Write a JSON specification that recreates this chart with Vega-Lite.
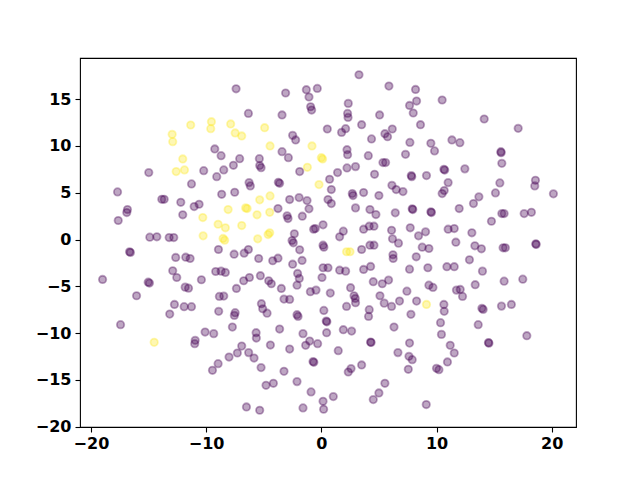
{
"$schema": "https://vega.github.io/schema/vega-lite/v6.json",
"width": 496, "height": 369,
"autosize": "none",
"padding": {"left": 80, "top": 58, "right": 64, "bottom": 53},
"background": "white",
"config": {"view": {"stroke": "black", "strokeWidth": 1.1}},
"data": {"values": [
{"x":-11.34,"y":12.24,"c":1},{"x":-12.95,"y":11.24,"c":1},{"x":-12.90,"y":10.46,"c":1},{"x":-12.03,"y":8.61,"c":1},{"x":-14.98,"y":7.15,"c":0},{"x":-12.60,"y":7.26,"c":1},{"x":-11.88,"y":7.44,"c":1},
{"x":-7.40,"y":16.11,"c":0},{"x":-3.10,"y":15.66,"c":0},{"x":-1.30,"y":16.01,"c":0},{"x":-0.35,"y":16.15,"c":0},{"x":-1.07,"y":15.23,"c":0},{"x":-0.93,"y":14.19,"c":0},{"x":-0.84,"y":13.84,"c":0},{"x":-6.33,"y":13.48,"c":0},{"x":-3.41,"y":13.31,"c":0},
{"x":-9.54,"y":12.59,"c":1},{"x":-9.60,"y":11.85,"c":1},{"x":-7.87,"y":12.35,"c":1},{"x":-7.48,"y":11.39,"c":1},{"x":-6.91,"y":11.07,"c":1},{"x":-4.92,"y":11.95,"c":1},
{"x":-2.49,"y":11.13,"c":0},{"x":-2.23,"y":10.64,"c":0},{"x":-4.45,"y":10.00,"c":1},{"x":-0.81,"y":10.00,"c":1},{"x":-9.25,"y":9.68,"c":0},{"x":-8.70,"y":8.96,"c":0},{"x":-3.41,"y":9.39,"c":0},{"x":-2.86,"y":8.75,"c":0},{"x":-7.09,"y":8.64,"c":0},{"x":-5.38,"y":8.64,"c":0},{"x":-5.35,"y":7.90,"c":0},{"x":-5.23,"y":7.68,"c":0},{"x":-7.63,"y":7.93,"c":0},{"x":-8.47,"y":7.44,"c":0},{"x":-10.21,"y":7.36,"c":0},{"x":-9.08,"y":6.72,"c":0},
{"x":-1.21,"y":7.72,"c":1},{"x":0.00,"y":8.75,"c":1},{"x":0.11,"y":8.61,"c":1},{"x":-1.88,"y":7.26,"c":0},
{"x":3.27,"y":17.61,"c":0},{"x":5.87,"y":16.40,"c":0},{"x":8.18,"y":16.04,"c":0},{"x":10.49,"y":14.91,"c":0},{"x":8.27,"y":14.80,"c":0},{"x":7.66,"y":14.33,"c":0},{"x":7.98,"y":13.52,"c":0},{"x":2.34,"y":14.55,"c":0},{"x":2.28,"y":13.48,"c":0},{"x":2.32,"y":13.05,"c":0},{"x":5.06,"y":13.31,"c":0},{"x":0.52,"y":11.81,"c":0},{"x":1.76,"y":11.45,"c":0},{"x":2.11,"y":11.85,"c":0},{"x":3.50,"y":12.27,"c":0},{"x":8.61,"y":12.27,"c":0},{"x":4.36,"y":10.75,"c":0},{"x":5.52,"y":11.31,"c":0},{"x":5.75,"y":10.99,"c":0},{"x":6.16,"y":11.81,"c":0},{"x":7.69,"y":10.38,"c":0},{"x":9.51,"y":10.28,"c":0},{"x":9.83,"y":9.47,"c":0},{"x":7.31,"y":9.10,"c":0},{"x":2.23,"y":9.60,"c":0},{"x":2.28,"y":9.07,"c":0},{"x":4.08,"y":8.96,"c":0},{"x":5.35,"y":8.22,"c":0},{"x":5.58,"y":8.22,"c":0},{"x":2.97,"y":7.79,"c":0},{"x":2.23,"y":7.65,"c":0},{"x":1.41,"y":7.15,"c":0},{"x":0.72,"y":6.44,"c":0},{"x":4.62,"y":6.97,"c":0},{"x":7.81,"y":6.83,"c":0},{"x":7.85,"y":6.72,"c":0},{"x":9.13,"y":6.83,"c":0},{"x":10.64,"y":7.50,"c":0},{"x":10.71,"y":7.42,"c":0},
{"x":14.14,"y":12.88,"c":0},{"x":17.09,"y":11.88,"c":0},{"x":11.34,"y":10.64,"c":0},{"x":12.03,"y":10.35,"c":0},{"x":15.59,"y":9.39,"c":0},{"x":15.61,"y":9.28,"c":0},{"x":15.67,"y":8.14,"c":0},{"x":12.46,"y":7.55,"c":0},{"x":18.59,"y":6.33,"c":0},
{"x":-11.27,"y":5.94,"c":0},{"x":-17.69,"y":5.09,"c":0},{"x":-13.85,"y":4.30,"c":0},{"x":-13.64,"y":4.30,"c":0},{"x":-12.20,"y":3.98,"c":0},{"x":-11.04,"y":3.52,"c":0},{"x":-10.61,"y":3.77,"c":0},{"x":-16.83,"y":3.20,"c":0},{"x":-16.89,"y":2.88,"c":0},{"x":-17.63,"y":2.03,"c":0},{"x":-12.03,"y":2.64,"c":0},{"x":-14.89,"y":0.25,"c":0},{"x":-14.28,"y":0.29,"c":0},{"x":-13.21,"y":0.21,"c":0},{"x":-12.81,"y":0.21,"c":0},{"x":-16.65,"y":-1.31,"c":0},{"x":-16.57,"y":-1.39,"c":0},{"x":-12.64,"y":-1.92,"c":0},{"x":-11.77,"y":-1.89,"c":0},{"x":-11.39,"y":-2.03,"c":0},{"x":-18.99,"y":-4.27,"c":0},{"x":-12.90,"y":-3.34,"c":0},{"x":-12.55,"y":-4.06,"c":0},{"x":-15.03,"y":-4.56,"c":0},{"x":-14.92,"y":-4.66,"c":0},{"x":-10.41,"y":-4.30,"c":0},{"x":-11.82,"y":-5.09,"c":0},{"x":-11.53,"y":-5.20,"c":0},{"x":-16.04,"y":-6.01,"c":0},
{"x":-6.27,"y":6.08,"c":0},{"x":-6.16,"y":5.73,"c":0},{"x":-3.73,"y":6.12,"c":0},{"x":-3.62,"y":6.01,"c":0},{"x":-0.20,"y":5.87,"c":1},{"x":-8.65,"y":4.83,"c":0},{"x":-7.52,"y":5.05,"c":0},{"x":-5.35,"y":4.24,"c":1},{"x":-4.45,"y":4.66,"c":1},{"x":-2.75,"y":4.27,"c":0},{"x":-1.93,"y":4.48,"c":0},{"x":-1.24,"y":4.16,"c":0},{"x":-1.07,"y":3.28,"c":0},
{"x":-10.29,"y":2.35,"c":1},{"x":-8.09,"y":3.20,"c":1},{"x":-6.57,"y":3.38,"c":1},{"x":-6.44,"y":3.31,"c":1},{"x":-5.58,"y":2.64,"c":1},{"x":-4.48,"y":2.91,"c":1},{"x":-3.76,"y":3.31,"c":0},{"x":-2.97,"y":2.53,"c":0},{"x":-2.89,"y":2.24,"c":0},{"x":-1.65,"y":2.49,"c":0},{"x":-0.67,"y":1.10,"c":0},{"x":-0.52,"y":1.17,"c":0},{"x":0.15,"y":1.57,"c":0},
{"x":-8.96,"y":1.63,"c":1},{"x":-8.33,"y":1.25,"c":1},{"x":-6.91,"y":1.49,"c":1},{"x":-10.26,"y":0.39,"c":1},{"x":-8.53,"y":0.11,"c":1},{"x":-8.39,"y":-0.07,"c":1},{"x":-5.52,"y":0.07,"c":1},{"x":-4.62,"y":0.53,"c":1},{"x":-4.48,"y":0.72,"c":1},
{"x":-2.34,"y":0.61,"c":0},{"x":-2.54,"y":-0.11,"c":0},{"x":-2.43,"y":-0.35,"c":0},{"x":-1.88,"y":-1.10,"c":0},{"x":0.15,"y":-0.61,"c":0},{"x":0.22,"y":-0.82,"c":0},{"x":-8.93,"y":-1.07,"c":0},{"x":-7.57,"y":-1.57,"c":0},{"x":-6.70,"y":-1.46,"c":0},{"x":-6.33,"y":-1.07,"c":0},{"x":-5.44,"y":-2.03,"c":0},{"x":-4.22,"y":-2.27,"c":0},{"x":-3.76,"y":-2.00,"c":0},{"x":-1.67,"y":-2.24,"c":0},{"x":-2.49,"y":-2.64,"c":0},
{"x":-9.17,"y":-3.42,"c":0},{"x":-8.70,"y":-3.38,"c":0},{"x":-8.33,"y":-3.52,"c":0},{"x":-2.06,"y":-3.63,"c":0},{"x":-1.91,"y":-4.16,"c":0},{"x":0.15,"y":-3.02,"c":0},{"x":0.06,"y":-4.06,"c":0},{"x":-6.74,"y":-4.41,"c":0},{"x":-6.24,"y":-4.06,"c":0},{"x":-5.29,"y":-3.87,"c":0},{"x":-4.57,"y":-4.41,"c":0},{"x":-4.34,"y":-4.73,"c":0},{"x":-2.11,"y":-4.88,"c":0},{"x":-7.37,"y":-5.23,"c":0},{"x":-3.47,"y":-5.23,"c":0},{"x":-0.95,"y":-5.58,"c":0},{"x":-0.46,"y":-5.41,"c":0},{"x":-8.85,"y":-6.08,"c":0},{"x":-8.47,"y":-6.05,"c":0},{"x":-3.24,"y":-6.37,"c":0},{"x":-2.75,"y":-6.40,"c":0},
{"x":0.87,"y":5.34,"c":0},{"x":0.58,"y":4.27,"c":0},{"x":0.87,"y":3.84,"c":0},{"x":2.69,"y":4.91,"c":0},{"x":2.75,"y":4.70,"c":0},{"x":3.67,"y":5.02,"c":0},{"x":5.00,"y":4.70,"c":0},{"x":6.13,"y":5.79,"c":0},{"x":6.50,"y":5.34,"c":0},{"x":7.09,"y":5.12,"c":0},{"x":10.49,"y":4.91,"c":0},{"x":10.67,"y":5.23,"c":0},{"x":2.97,"y":3.38,"c":0},{"x":4.22,"y":3.20,"c":0},{"x":4.74,"y":2.67,"c":0},{"x":6.42,"y":2.85,"c":0},{"x":7.89,"y":3.28,"c":0},{"x":7.94,"y":3.20,"c":0},{"x":9.51,"y":2.96,"c":0},{"x":9.56,"y":2.88,"c":0},
{"x":1.91,"y":0.89,"c":0},{"x":1.59,"y":0.29,"c":0},{"x":3.67,"y":1.10,"c":0},{"x":4.16,"y":1.42,"c":0},{"x":4.57,"y":1.42,"c":0},{"x":6.10,"y":0.99,"c":0},{"x":7.72,"y":1.25,"c":0},{"x":8.44,"y":0.39,"c":0},{"x":9.05,"y":0.82,"c":0},{"x":6.18,"y":0.07,"c":0},{"x":6.70,"y":-0.39,"c":0},
{"x":2.19,"y":-1.31,"c":1},{"x":2.49,"y":-1.31,"c":1},{"x":3.50,"y":-1.07,"c":0},{"x":4.22,"y":-0.61,"c":0},{"x":4.57,"y":-0.61,"c":0},{"x":6.22,"y":-1.63,"c":0},{"x":6.24,"y":-2.03,"c":0},{"x":8.24,"y":-1.85,"c":0},{"x":8.76,"y":-0.82,"c":0},{"x":9.34,"y":-0.96,"c":0},{"x":7.66,"y":-3.17,"c":0},{"x":9.25,"y":-3.02,"c":0},{"x":0.58,"y":-3.02,"c":0},{"x":1.59,"y":-3.28,"c":0},{"x":2.11,"y":-3.38,"c":0},{"x":3.67,"y":-3.20,"c":0},{"x":4.28,"y":-2.88,"c":0},
{"x":2.54,"y":-5.15,"c":0},{"x":4.51,"y":-4.51,"c":0},{"x":5.29,"y":-4.73,"c":0},{"x":5.84,"y":-4.34,"c":0},{"x":7.43,"y":-5.52,"c":0},{"x":9.34,"y":-4.88,"c":0},{"x":9.69,"y":-5.12,"c":0},{"x":0.78,"y":-5.73,"c":0},{"x":2.84,"y":-6.01,"c":0},{"x":2.95,"y":-6.30,"c":0},{"x":5.09,"y":-6.01,"c":0},{"x":6.79,"y":-6.58,"c":0},{"x":8.27,"y":-6.58,"c":0},
{"x":11.01,"y":6.08,"c":0},{"x":15.50,"y":6.05,"c":0},{"x":18.53,"y":5.73,"c":0},{"x":13.68,"y":4.56,"c":0},{"x":13.21,"y":3.84,"c":0},{"x":15.12,"y":4.98,"c":0},{"x":20.15,"y":4.88,"c":0},{"x":11.97,"y":3.31,"c":0},{"x":15.67,"y":2.77,"c":0},{"x":15.87,"y":2.77,"c":0},{"x":17.61,"y":2.77,"c":0},{"x":18.24,"y":2.91,"c":0},{"x":14.77,"y":1.95,"c":0},{"x":11.01,"y":1.10,"c":0},{"x":11.54,"y":1.17,"c":0},{"x":13.07,"y":0.72,"c":0},{"x":11.68,"y":-0.29,"c":0},{"x":13.33,"y":-0.67,"c":0},{"x":13.90,"y":-0.99,"c":0},{"x":15.78,"y":-0.89,"c":0},{"x":15.98,"y":-0.89,"c":0},{"x":18.62,"y":-0.46,"c":0},{"x":18.65,"y":-0.53,"c":0},{"x":12.86,"y":-2.17,"c":0},{"x":10.90,"y":-2.91,"c":0},{"x":11.54,"y":-2.91,"c":0},{"x":13.99,"y":-3.38,"c":0},{"x":15.87,"y":-4.45,"c":0},{"x":17.49,"y":-4.24,"c":0},{"x":13.36,"y":-4.83,"c":0},{"x":11.73,"y":-5.41,"c":0},{"x":12.06,"y":-5.34,"c":0},{"x":12.26,"y":-6.08,"c":0},
{"x":-12.75,"y":-6.94,"c":0},{"x":-11.91,"y":-7.18,"c":0},{"x":-11.27,"y":-7.18,"c":0},{"x":-13.16,"y":-7.97,"c":0},{"x":-17.43,"y":-9.10,"c":0},{"x":-14.51,"y":-10.99,"c":1},{"x":-10.95,"y":-10.78,"c":0},{"x":-10.99,"y":-11.13,"c":0},
{"x":-5.20,"y":-6.86,"c":0},{"x":-5.09,"y":-7.40,"c":0},{"x":-4.71,"y":-7.87,"c":0},{"x":-8.91,"y":-7.68,"c":0},{"x":-7.48,"y":-7.82,"c":0},{"x":-7.55,"y":-8.11,"c":0},{"x":-2.11,"y":-8.04,"c":0},{"x":-2.02,"y":-8.22,"c":0},{"x":0.22,"y":-7.58,"c":0},{"x":-10.09,"y":-9.89,"c":0},{"x":-9.34,"y":-10.06,"c":0},{"x":-7.72,"y":-9.36,"c":0},{"x":-5.66,"y":-9.96,"c":0},{"x":-5.64,"y":-10.53,"c":0},{"x":-3.62,"y":-9.57,"c":0},{"x":-1.59,"y":-10.06,"c":0},{"x":-1.01,"y":-10.85,"c":0},{"x":-1.36,"y":-11.31,"c":0},{"x":-0.32,"y":-11.13,"c":0},{"x":-4.42,"y":-11.28,"c":0},{"x":-6.91,"y":-11.39,"c":0},{"x":-7.29,"y":-12.13,"c":0},{"x":-8.01,"y":-12.56,"c":0},{"x":-6.31,"y":-12.09,"c":0},{"x":-5.84,"y":-12.67,"c":0},{"x":-2.75,"y":-11.71,"c":0},{"x":-8.96,"y":-13.27,"c":0},{"x":-9.45,"y":-13.98,"c":0},{"x":-5.23,"y":-13.69,"c":0},{"x":-0.72,"y":-13.05,"c":0},{"x":-0.65,"y":-13.13,"c":0},{"x":-3.24,"y":-14.09,"c":0},{"x":-4.80,"y":-15.58,"c":0},{"x":-4.16,"y":-15.37,"c":0},{"x":-2.11,"y":-15.19,"c":0},{"x":-0.89,"y":-16.29,"c":0},{"x":-6.50,"y":-17.90,"c":0},{"x":-5.35,"y":-18.25,"c":0},{"x":-1.59,"y":-18.00,"c":0},{"x":0.15,"y":-17.29,"c":0},{"x":0.20,"y":-18.14,"c":0},
{"x":0.43,"y":-8.72,"c":0},{"x":0.48,"y":-8.80,"c":0},{"x":0.46,"y":-9.96,"c":0},{"x":2.19,"y":-7.15,"c":0},{"x":2.97,"y":-6.76,"c":0},{"x":4.16,"y":-7.50,"c":0},{"x":4.10,"y":-8.22,"c":0},{"x":5.46,"y":-6.80,"c":0},{"x":6.10,"y":-7.15,"c":0},{"x":9.13,"y":-6.94,"c":1},{"x":10.64,"y":-6.94,"c":0},{"x":10.67,"y":-7.68,"c":0},{"x":7.78,"y":-8.00,"c":0},{"x":1.91,"y":-9.64,"c":0},{"x":2.63,"y":-9.79,"c":0},{"x":6.31,"y":-9.36,"c":0},{"x":10.35,"y":-8.89,"c":0},{"x":10.43,"y":-10.14,"c":0},{"x":4.28,"y":-10.96,"c":0},{"x":4.32,"y":-11.01,"c":0},{"x":7.66,"y":-11.07,"c":0},{"x":1.47,"y":-11.88,"c":0},{"x":6.65,"y":-12.09,"c":0},{"x":7.61,"y":-12.49,"c":0},{"x":7.89,"y":-12.84,"c":0},{"x":3.50,"y":-13.41,"c":0},{"x":2.58,"y":-13.80,"c":0},{"x":2.34,"y":-14.16,"c":0},{"x":7.55,"y":-13.87,"c":0},{"x":10.00,"y":-13.77,"c":0},{"x":10.21,"y":-13.91,"c":0},{"x":5.52,"y":-15.37,"c":0},{"x":5.00,"y":-16.40,"c":0},{"x":4.51,"y":-17.11,"c":0},{"x":1.04,"y":-16.79,"c":0},{"x":9.11,"y":-17.64,"c":0},
{"x":13.94,"y":-7.36,"c":0},{"x":14.05,"y":-7.47,"c":0},{"x":15.64,"y":-7.12,"c":0},{"x":16.50,"y":-6.94,"c":0},{"x":13.62,"y":-9.10,"c":0},{"x":17.84,"y":-10.28,"c":0},{"x":11.19,"y":-11.31,"c":0},{"x":11.54,"y":-12.13,"c":0},{"x":14.51,"y":-11.02,"c":0},{"x":14.55,"y":-11.08,"c":0},{"x":10.95,"y":-13.09,"c":0}
]},
"mark": {"type": "point", "filled": true, "shape": "circle", "size": 55, "fillOpacity": 0.35, "strokeOpacity": 0.35, "strokeWidth": 1.8},
"encoding": {
"x": {"field": "x", "type": "quantitative", "scale": {"domain": [-20.95, 22.11], "nice": false, "zero": false},
  "axis": {"title": null, "values": [-20, -10, 0, 10, 20], "format": "d", "labelExpr": "replace(datum.label, '-', '−')", "grid": false, "domain": false, "tickColor": "black", "tickSize": 5, "tickWidth": 1.1, "labelFont": "DejaVu Sans", "labelFontWeight": "bold", "labelFontSize": 16, "labelColor": "black", "labelPadding": 3}},
"y": {"field": "y", "type": "quantitative", "scale": {"domain": [-20.04, 19.4], "nice": false, "zero": false},
  "axis": {"title": null, "values": [-20, -15, -10, -5, 0, 5, 10, 15], "format": "d", "labelExpr": "replace(datum.label, '-', '−')", "grid": false, "domain": false, "tickColor": "black", "tickSize": 5, "tickWidth": 1.1, "labelFont": "DejaVu Sans", "labelFontWeight": "bold", "labelFontSize": 16, "labelColor": "black", "labelPadding": 4}},
"fill": {"field": "c", "type": "quantitative", "scale": {"domain": [0, 1], "range": ["#440154", "#fde725"]}, "legend": null},
"stroke": {"field": "c", "type": "quantitative", "scale": {"domain": [0, 1], "range": ["#440154", "#fde725"]}, "legend": null}
}
}
